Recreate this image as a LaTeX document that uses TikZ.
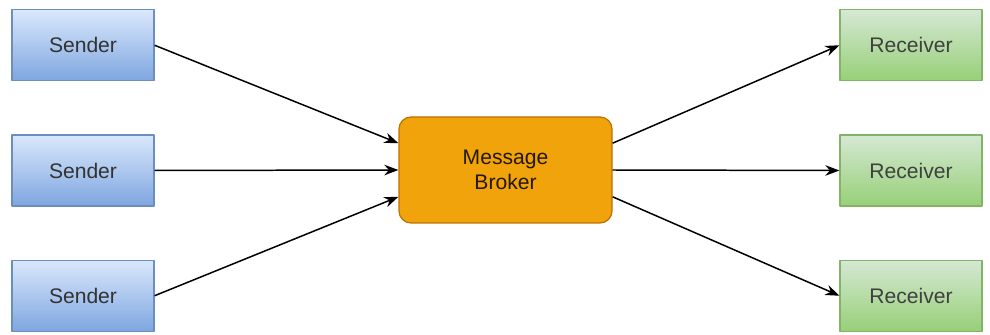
\documentclass[tikz,border=0pt]{standalone}
\usepackage{fontspec}
\setmainfont{Liberation Sans}
\usetikzlibrary{positioning,arrows.meta,calc}
\definecolor{sendfill}{HTML}{DAE8FC}
\definecolor{sendgrad}{HTML}{7EA6E0}
\definecolor{sendline}{HTML}{6C8EBF}
\definecolor{recvfill}{HTML}{D5E8D4}
\definecolor{recvgrad}{HTML}{97D077}
\definecolor{recvline}{HTML}{82B366}
\definecolor{brokfill}{HTML}{F0A30A}
\definecolor{brokline}{HTML}{BD7000}
\begin{document}
\begin{tikzpicture}[>={Stealth[length=8pt,width=6pt]},line join=round,font=\fontsize{12}{14}\selectfont,
	sender/.style={draw=sendline,line width=0.7pt,top color=sendfill,bottom color=sendgrad,
		minimum width=2.84cm,minimum height=1.42cm,text=black!80},
	receiver/.style={draw=recvline,line width=0.7pt,top color=recvfill,bottom color=recvgrad,
		minimum width=2.84cm,minimum height=1.42cm,text=black!75},
	broker/.style={draw=brokline,line width=0.7pt,fill=brokfill,rounded corners=0.24cm,
		minimum width=4.26cm,minimum height=2.12cm,align=center,text=black!85!brokfill},
	link/.style={->,line width=0.85pt}]
	\useasboundingbox (0,0) rectangle (19.8,6.7);
	% broker in the middle
	\node[broker] (B) at (10.11,3.30) {Message\\Broker};
	% senders on the left
	\node[sender] (S2) at (1.66,3.29) {Sender};
	\node[sender,above=1.06cm of S2] (S1) {Sender};
	\node[sender,below=1.06cm of S2] (S3) {Sender};
	% receivers on the right
	\node[receiver] (R2) at (18.22,3.29) {Receiver};
	\node[receiver,above=1.06cm of R2] (R1) {Receiver};
	\node[receiver,below=1.06cm of R2] (R3) {Receiver};
	% ports on the broker sides
	\path
	($(B.north west)!0.25!(B.south west)$) coordinate (Bw1)
	($(B.north west)!0.75!(B.south west)$) coordinate (Bw3)
	($(B.north east)!0.25!(B.south east)$) coordinate (Be1)
	($(B.north east)!0.75!(B.south east)$) coordinate (Be3);
	% incoming
	\draw[link] (S1.east)--(Bw1);
	\draw[link] (S2.east)--(B.west);
	\draw[link] (S3.east)--(Bw3);
	% outgoing
	\draw[link] (Be1)--(R1.west);
	\draw[link] (B.east)--(R2.west);
	\draw[link] (Be3)--(R3.west);
\end{tikzpicture}
\end{document}
